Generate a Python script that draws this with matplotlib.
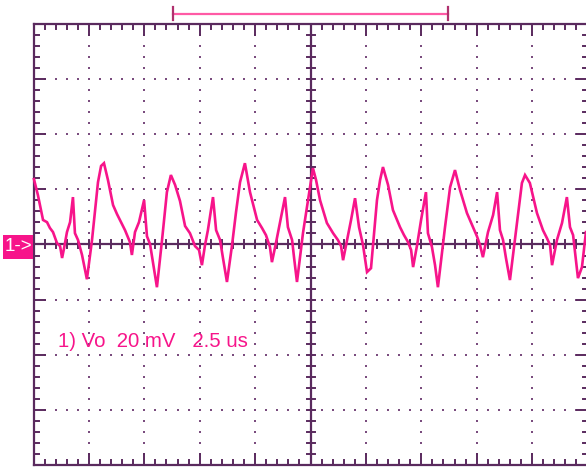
import numpy as np
import matplotlib
matplotlib.use("Agg")
import matplotlib.pyplot as plt
from matplotlib.patches import Rectangle

# scope settings
volts_per_div = 20.0    # mV
time_per_div = 2.5      # us
n_xdiv = 10
n_ydiv = 8
label_text = "1) Vo  20 mV   2.5 us"

# trace: time (us), voltage (mV)
t_us = [0.02, 0.20, 0.43, 0.61, 0.74, 0.88, 1.06, 1.20, 1.29, 1.38,
        1.51, 1.65, 1.78, 1.87, 2.01, 2.19, 2.41, 2.64, 2.91, 3.05,
        3.18, 3.36, 3.59, 3.77, 3.95, 4.13, 4.26, 4.35, 4.44, 4.58,
        4.76, 4.99, 5.12, 5.26, 5.39, 5.57, 5.80, 6.02, 6.20, 6.39,
        6.61, 6.84, 7.06, 7.29, 7.47, 7.60, 7.74, 7.87, 8.10, 8.24,
        8.42, 8.55, 8.73, 8.96, 9.14, 9.32, 9.54, 9.77, 10.09, 10.31,
        10.49, 10.67, 10.76, 10.94, 11.12, 11.35, 11.48, 11.67, 11.76, 11.89,
        12.16, 12.39, 12.61, 12.75, 12.93, 13.24, 13.52, 13.74, 13.88, 13.97,
        14.15, 14.33, 14.51, 14.69, 14.87, 15.05, 15.23, 15.50, 15.64, 15.77,
        16.00, 16.22, 16.54, 16.72, 16.90, 17.04, 17.13, 17.31, 17.49, 17.71,
        17.80, 17.98, 18.12, 18.25, 18.57, 18.80, 19.02, 19.25, 19.56, 19.83,
        20.01, 20.15, 20.28, 20.51, 20.74, 20.92, 21.05, 21.19, 21.32, 21.50,
        21.82, 22.04, 22.18, 22.40, 22.72, 22.99, 23.17, 23.31, 23.40, 23.62,
        23.85, 24.07, 24.21, 24.35, 24.57, 24.75, 24.93]
v_mv = [23.7, 17.9, 8.9, 8.1, 6.0, 4.5, 0.5, -0.6, -4.9, -1.3,
        4.5, 8.1, 17.2, 4.1, 1.6, -3.8, -12.6, 1.6, 22.6, 28.5,
        29.5, 23.4, 14.3, 11.0, 8.1, 5.2, 2.7, 0.9, -3.8, 4.5,
        8.1, 16.1, 3.0, 0.1, -6.4, -15.5, 1.6, 19.0, 25.2, 21.6,
        15.8, 6.7, 4.1, -0.6, -2.0, -7.5, -0.2, 5.2, 17.2, 5.2,
        1.6, -4.9, -13.6, -0.2, 11.8, 22.6, 29.5, 19.0, 8.9, 6.0,
        3.4, -0.9, -6.4, 0.5, 7.8, 17.2, 6.3, 1.6, -4.9, -13.6,
        4.1, 16.1, 27.7, 23.4, 16.1, 7.8, 4.1, 1.6, -0.6, -5.7,
        1.6, 8.9, 16.8, 6.3, -0.2, -10.0, -8.6, 16.1, 23.4, 28.1,
        21.6, 12.5, 6.3, 3.4, 0.9, -2.0, -8.2, -0.2, 8.9, 19.0,
        4.1, -0.9, -7.5, -15.5, 6.3, 20.8, 27.0, 19.7, 11.4, 6.3,
        3.0, -0.2, -4.6, 4.5, 10.7, 19.0, 5.2, 1.6, -4.9, -12.9,
        7.8, 22.3, 25.2, 22.3, 11.4, 5.2, 2.3, -0.2, -7.5, 1.6,
        7.8, 17.2, 6.3, 3.4, -12.2, -8.2, 4.5]

grid_col = "#7a4c7e"
frame_col = "#5a2a5e"
trace_col = "#f7148a"

W, H = 586, 469
fig = plt.figure(figsize=(W / 100, H / 100), dpi=100)
fig.patch.set_facecolor("white")
# screen area in pixels: x 33.5..587.5, y 24..465
ax = fig.add_axes([33.5 / W, (H - 465) / H, 554 / W, 441 / H])
xmax = n_xdiv * time_per_div
ymax = n_ydiv / 2 * volts_per_div
ax.set_xlim(0, xmax)
ax.set_ylim(-ymax, ymax)
ax.set_xticks([])
ax.set_yticks([])
for s in ax.spines.values():
    s.set_color(frame_col)
    s.set_linewidth(1.6)

# dotted graticule
minor_t = np.arange(0, xmax + 0.01, time_per_div / 5)
minor_v = np.arange(-ymax, ymax + 0.01, volts_per_div / 5)
for i in range(1, n_xdiv):
    if i == n_xdiv // 2:
        continue
    ax.scatter(np.full(len(minor_v), i * time_per_div), minor_v, s=2.2,
               color=grid_col, marker="s", linewidths=0, zorder=1)
for j in range(1, n_ydiv):
    if j == n_ydiv // 2:
        continue
    v = -ymax + j * volts_per_div
    ax.scatter(minor_t, np.full(len(minor_t), v), s=2.2,
               color=grid_col, marker="s", linewidths=0, zorder=1)

# centre cross
ax.axhline(0, color=frame_col, lw=1.6, zorder=2)
ax.axvline(xmax / 2, color=frame_col, lw=1.6, zorder=2)

# tick marks in pixel lengths
px_t = xmax / 554
px_v = 2 * ymax / 441
for k, t in enumerate(minor_t):
    major = k % 5 == 0
    ln = 11 if major else 5
    ax.plot([t, t], [ymax, ymax - ln * px_v], color=frame_col, lw=1.4, zorder=2)
    ax.plot([t, t], [-ymax, -ymax + ln * px_v], color=frame_col, lw=1.4, zorder=2)
    ax.plot([t, t], [-4 * px_v, 4 * px_v], color=frame_col, lw=1.4, zorder=2)
for k, v in enumerate(minor_v):
    major = k % 5 == 0
    ln = 11 if major else 5
    ax.plot([0, ln * px_t], [v, v], color=frame_col, lw=1.4, zorder=2)
    ax.plot([xmax, xmax - ln * px_t], [v, v], color=frame_col, lw=1.4, zorder=2)
    ax.plot([xmax / 2 - 4 * px_t, xmax / 2 + 4 * px_t], [v, v],
            color=frame_col, lw=1.4, zorder=2)

# the trace
ax.plot(t_us, v_mv, color=trace_col, lw=1.9, zorder=3, clip_on=False,
        solid_joinstyle="miter")

# channel label
ax.text(1.1, -35.2, label_text, color=trace_col,
        fontsize=14.7, family="Liberation Sans", ha="left", va="center", zorder=4)

# ground marker "1->"
fig.add_artist(Rectangle((3 / W, 1 - 259 / H), 30 / W, 24 / H,
                         transform=fig.transFigure, fc=trace_col, ec="none"))
fig.text(18 / W, 1 - 246.5 / H, "1->", color="white", fontsize=13.5,
         family="Liberation Sans", ha="center", va="center")

# trigger window bracket on top
y_br = 1 - 14 / H
fig.add_artist(plt.Line2D([173 / W, 448 / W], [y_br, y_br], color="#ff5aa5", lw=1.6))
fig.add_artist(plt.Line2D([173 / W, 173 / W], [1 - 7 / H, 1 - 20 / H], color="#b0306e", lw=1.6))
fig.add_artist(plt.Line2D([448 / W, 448 / W], [1 - 7 / H, 1 - 20 / H], color="#b0306e", lw=1.6))

fig.savefig("out.png", dpi=100)
